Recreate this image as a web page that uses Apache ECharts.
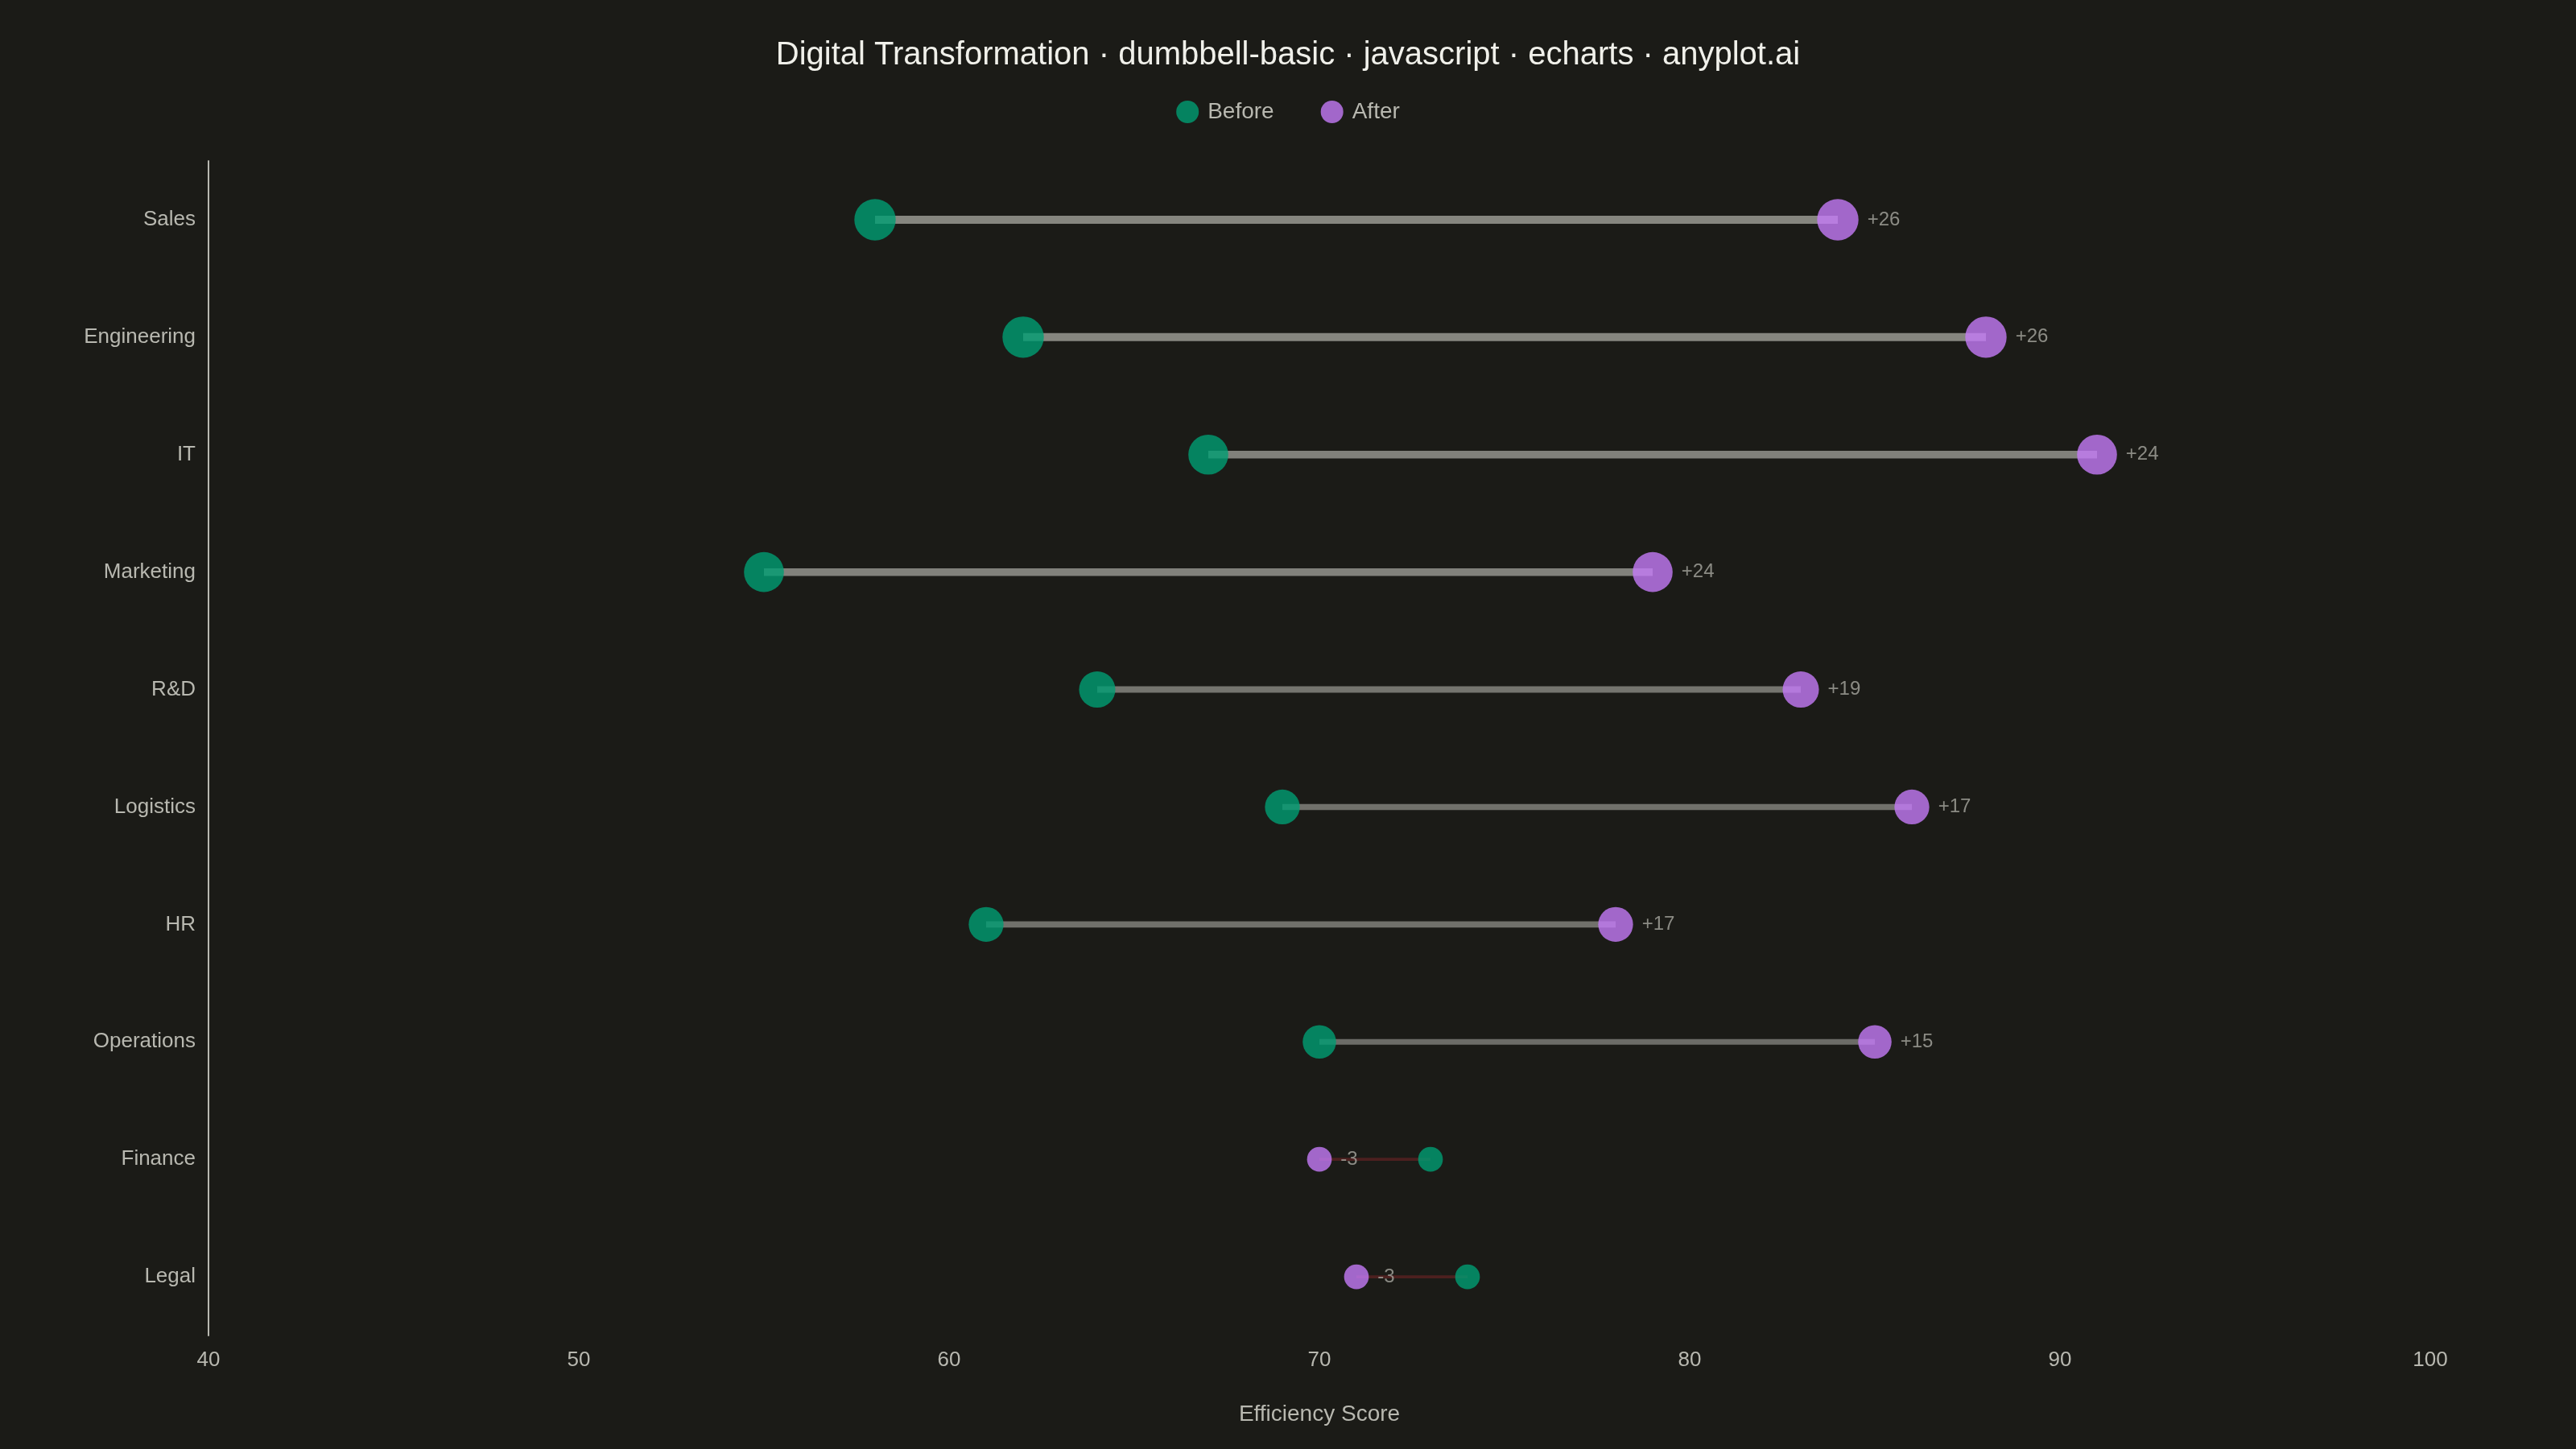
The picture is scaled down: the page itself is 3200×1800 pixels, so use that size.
<!DOCTYPE html>
<html>
<head>
    <meta charset="utf-8" />
    <title>Digital Transformation - dumbbell</title>
    <script src="https://cdn.jsdelivr.net/npm/echarts@6/dist/echarts.min.js"></script>
    <style>
        html, body { margin: 0; padding: 0; background: #1b1b17; }
        #chart { width: 3200px; height: 1800px; }
    </style>
</head>
<body>
    <div id="chart"></div>
    <script type="text/javascript">
        // departments, sorted by change (largest gain first)
        var departments = ['Sales', 'Engineering', 'IT', 'Marketing', 'R&D', 'Logistics', 'HR', 'Operations', 'Finance', 'Legal'];
        var beforeScores = [58, 62, 67, 55, 64, 69, 61, 70, 73, 74];
        var afterScores = [84, 88, 91, 79, 83, 86, 78, 85, 70, 71];
        var xTicks = [40, 50, 60, 70, 80, 90, 100];

        var FONT = '"Liberation Sans", Arial, sans-serif';
        var GREEN = '#009E73';
        var PURPLE = '#C47AF8';

        function change(i) {
            return afterScores[i] - beforeScores[i];
        }
        function dotSize(i) {
            return 28 + Math.abs(change(i)) * 0.9;
        }

        var lineData = departments.map(function (d, i) {
            return [beforeScores[i], afterScores[i], i];
        });
        var beforeData = departments.map(function (d, i) {
            return { value: [beforeScores[i], i], symbolSize: dotSize(i) };
        });
        var afterData = departments.map(function (d, i) {
            return { value: [afterScores[i], i], symbolSize: dotSize(i) };
        });

        var myChart = echarts.init(document.getElementById('chart'));
        var option = {
            backgroundColor: '#1b1b17',
            textStyle: { fontFamily: FONT },
            title: {
                text: 'Digital Transformation · dumbbell-basic · javascript · echarts · anyplot.ai',
                left: 'center',
                top: 44,
                textStyle: { color: '#f0f0ea', fontSize: 40, fontWeight: 'normal', fontFamily: FONT }
            },
            legend: {
                data: ['Before', 'After'],
                top: 120,
                left: 'center',
                icon: 'circle',
                itemWidth: 28,
                itemHeight: 28,
                itemGap: 58,
                textStyle: { color: '#b8b8b0', fontSize: 28, fontFamily: FONT, padding: [0, 0, 0, 6] }
            },
            grid: { left: 259, right: 181, top: 200, bottom: 141 },
            xAxis: {
                type: 'value',
                min: xTicks[0],
                max: xTicks[xTicks.length - 1],
                interval: 10,
                name: 'Efficiency Score',
                nameLocation: 'middle',
                nameGap: 84,
                nameTextStyle: { color: '#b8b8b0', fontSize: 28, fontFamily: FONT },
                axisLine: { show: false },
                axisTick: { show: false },
                splitLine: { show: false },
                axisLabel: { color: '#b8b8b0', fontSize: 26, margin: 18, fontFamily: FONT }
            },
            yAxis: {
                type: 'category',
                data: departments,
                inverse: true,
                axisLine: { show: true, lineStyle: { color: '#b8b8b0', width: 2 } },
                axisTick: { show: false },
                splitLine: { show: false },
                axisLabel: { color: '#b8b8b0', fontSize: 26, margin: 16, fontFamily: FONT }
            },
            series: [
                {
                    name: 'Change',
                    type: 'custom',
                    z: 1,
                    silent: true,
                    encode: { x: [0, 1], y: 2 },
                    data: lineData,
                    renderItem: function (params, api) {
                        var b = api.value(0), a = api.value(1), idx = api.value(2);
                        var p1 = api.coord([b, idx]);
                        var p2 = api.coord([a, idx]);
                        var d = Math.abs(a - b);
                        var up = a >= b;
                        return {
                            type: 'line',
                            shape: { x1: p1[0], y1: p1[1], x2: p2[0], y2: p2[1] },
                            style: {
                                stroke: up ? '#a1a19a' : '#96282d',
                                lineWidth: 3 + d * 0.27,
                                opacity: 0.35 + 0.45 * d / 26
                            }
                        };
                    }
                },
                {
                    name: 'Before',
                    type: 'scatter',
                    z: 3,
                    data: beforeData,
                    itemStyle: { color: GREEN, opacity: 0.8 }
                },
                {
                    name: 'After',
                    type: 'scatter',
                    z: 3,
                    data: afterData,
                    itemStyle: { color: PURPLE, opacity: 0.8 },
                    label: {
                        show: true,
                        position: 'right',
                        distance: 11,
                        color: '#a8a8a0',
                        fontSize: 24,
                        fontFamily: FONT,
                        formatter: function (p) {
                            var c = change(p.dataIndex);
                            return (c > 0 ? '+' : '') + c;
                        }
                    }
                }
            ]
        };
        myChart.setOption(option);
    </script>
</body>
</html>
